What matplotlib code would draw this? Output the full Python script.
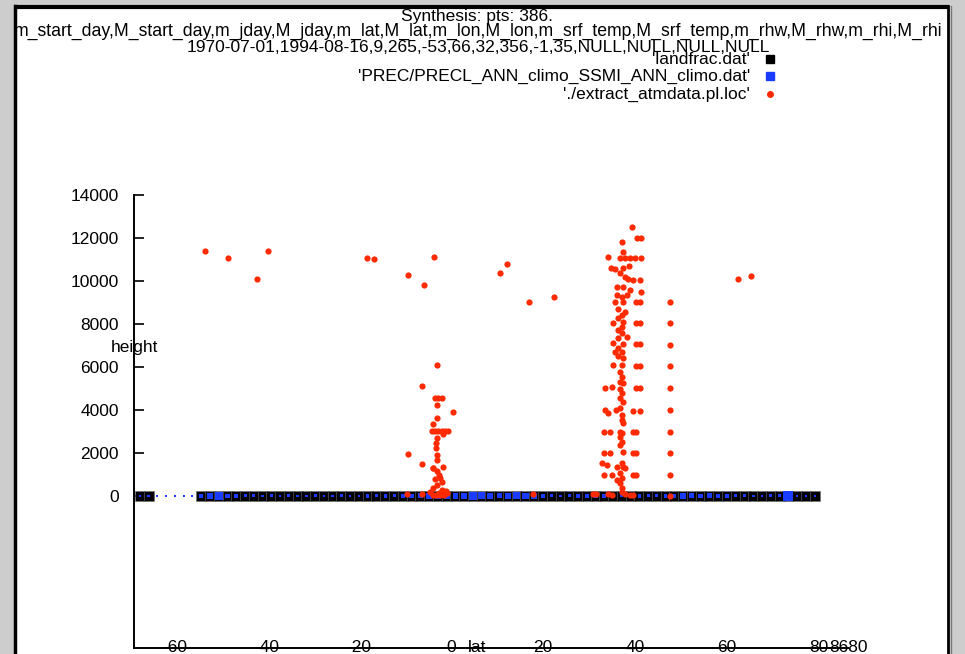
import matplotlib
matplotlib.use("Agg")
import matplotlib.pyplot as plt
from matplotlib.patches import Rectangle
from matplotlib.lines import Line2D

plt.rcParams['font.family'] = ['Liberation Sans', 'DejaVu Sans']

# ---------------- data ----------------
title_lines = [
    "Synthesis: pts: 386.",
    "m_start_day,M_start_day,m_jday,M_jday,m_lat,M_lat,m_lon,M_lon,m_srf_temp,M_srf_temp,m_rhw,M_rhw,m_rhi,M_rhi",
    "1970-07-01,1994-08-16,9,265,-53,66,32,356,-1,35,NULL,NULL,NULL,NULL",
]
legend_labels = ["'landfrac.dat'", "'PREC/PRECL_ANN_climo_SSMI_ANN_climo.dat'", "'./extract_atmdata.pl.loc'"]

# landfrac.dat (lat, value)
landfrac_lat = [-67.617, -65.713,
                -54.285, -52.381, -50.476, -48.571, -46.667, -44.762, -42.857, -40.952, -39.048,
                -37.143, -35.238, -33.333, -31.428, -29.523, -27.619, -25.714, -23.809, -21.904,
                -20.000, -18.095, -16.190, -14.286, -12.381, -10.476, -8.571, -6.667, -4.762,
                -2.857, -0.952, 0.952, 2.857, 4.762, 6.667, 8.571, 10.476, 12.381, 14.286,
                16.190, 18.095, 20.000, 21.904, 23.809, 25.714, 27.619, 29.523, 31.428, 33.333,
                35.238, 37.143, 39.048, 40.952, 42.857, 44.762, 46.667, 48.571, 50.476, 52.381,
                54.285, 56.190, 58.095, 59.999, 61.904, 63.808, 65.713, 67.617, 69.522, 71.426,
                73.331, 75.235, 77.139, 79.043]
landfrac_val = [1, 1,
                0, 0, 0, 0, 0, 0, 0, 0, 0,
                0, 0, 0, 0, 0, 0, 0, 0, 0,
                0, 0, 0, 0, 0, 0, 0, 0, 0,
                0, 0, 0, 0, 0, 0, 0, 0, 0, 0,
                0, 0, 0, 0, 0, 0, 0, 0, 0, 0,
                0, 0, 0, 0, 0, 0, 0, 0, 0, 0,
                0, 0, 0, 0, 0, 0, 0, 0, 0, 0,
                1, 1, 1, 1]

# PREC climo (lat, value at 0, point-size value)
prec_lat = [-67.617, -65.713, -63.808, -61.904, -59.999, -58.095, -56.190,
            -54.285, -52.381, -50.476, -48.571, -46.667, -44.762, -42.857, -40.952, -39.048,
            -37.143, -35.238, -33.333, -31.428, -29.523, -27.619, -25.714, -23.809, -21.904,
            -20.000, -18.095, -16.190, -14.286, -12.381, -10.476, -8.571, -6.667, -4.762,
            -2.857, -0.952, 0.952, 2.857, 4.762, 6.667, 8.571, 10.476, 12.381, 14.286,
            16.190, 18.095, 20.000, 21.904, 23.809, 25.714, 27.619, 29.523, 31.428, 33.333,
            35.238, 37.143, 39.048, 40.952, 42.857, 44.762, 46.667, 48.571, 50.476, 52.381,
            54.285, 56.190, 58.095, 59.999, 61.904, 63.808, 65.713, 67.617, 69.522, 71.426,
            73.331, 75.235, 77.139, 79.043]
prec_val = [0, 0, 0, 0, 0, 0, 0,
            0, 0, 0, 0, 0, 0, 0, 0, 0,
            0, 0, 0, 0, 0, 0, 0, 0, 0,
            0, 0, 0, 0, 0, 0, 0, 0, 0,
            0, 0, 0, 0, 0, 0, 0, 0, 0, 0,
            0, 0, 0, 0, 0, 0, 0, 0, 0, 0,
            0, 0, 0, 0, 0, 0, 0, 0, 0, 0,
            0, 0, 0, 0, 0, 0, 0, 0, 0, 0,
            0, 0, 0, 0]
prec_amount = [2.5, 2.5, 2.0, 2.0, 2.0, 2.0, 2.0,
               4.0, 5.5, 8.0, 4.5, 4.0, 3.0, 3.0, 2.5, 3.0,
               2.5, 3.0, 2.5, 2.5, 3.0, 2.0, 2.5, 3.0, 2.5,
               2.5, 3.5, 3.0, 3.5, 3.0, 4.0, 4.5, 5.0, 5.5,
               6.0, 6.0, 5.5, 6.5, 7.5, 7.0, 6.0, 5.0, 6.5, 7.0,
               6.5, 6.0, 4.0, 3.0, 2.5, 3.0, 3.5, 4.0, 4.5, 4.0,
               3.5, 3.0, 3.0, 3.5, 3.0, 3.0, 3.5, 4.0, 6.5, 5.0,
               4.5, 5.0, 4.0, 3.5, 3.0, 3.0, 2.5, 2.5, 3.0, 3.0,
               10.0, 2.5, 2.0, 2.0]

# extract_atmdata.pl.loc (lat, height)
loc_lat = [
    -53.5, -48.5, -42.2, -39.8, -18.3, -16.7, -9.3, -5.9, -3.7, 10.7, 12.2, 17.0, 22.4, 62.4, 65.2,
    -3.1, -6.4, -3.5, -2.8, -2.0, -3.1, 0.5, -3.1, -3.8, -4.2, -3.5, -2.8, -2.0, -1.3, -0.6,
    -1.7, -3.1, -3.2, -3.2, -3.1, -3.0, -9.3, -6.2, -3.8, -3.1, -2.7, -3.5, -2.0, -3.1, -3.8,
    -2.0, -4.5, -2.7, -0.9, -9.6, -6.4, -4.0, -3.3, -2.4, -1.5, -1.1, -2.3, -1.8, -3.9,
    39.3, 40.4, 41.2, 37.1, 37.3, 34.2, 36.7, 37.8, 38.9, 40.1, 41.4, 34.7, 35.7, 37.5, 38.6,
    36.7, 37.8, 38.5, 39.6, 41.1, 36.0, 37.5, 38.9, 41.4, 36.0, 37.1, 38.2, 35.7, 37.5, 40.3,
    41.0, 36.4, 37.8, 37.1, 36.4, 37.5, 35.3, 40.3, 41.1, 37.1, 36.4, 37.1, 38.2, 36.4, 35.3,
    37.5, 40.3, 41.0, 36.4, 35.7, 37.1, 36.4, 37.5, 35.3, 37.1, 40.3, 41.0, 36.7, 37.1, 36.7,
    37.5, 33.5, 35.0, 36.7, 40.3, 41.0, 37.1, 36.7, 37.5, 33.5, 34.2, 35.9, 36.7, 37.1, 39.6,
    41.0, 37.1, 37.5, 33.2, 34.6, 36.7, 37.1, 39.6, 40.3, 36.7, 37.1, 36.7, 33.2, 34.6, 37.5,
    39.6, 40.3, 32.8, 33.9, 36.0, 37.1, 37.5, 37.8, 33.2, 35.0, 36.7, 37.1, 39.6, 40.3, 36.7,
    37.1, 31.5, 34.2, 34.9, 37.1, 37.8, 38.9, 39.6, 36.0,
    47.7, 47.7, 47.7, 47.7, 47.7, 47.7, 47.7, 47.7, 47.7, 47.6, 17.9, 30.9,
]
loc_height = [
    11400, 11070, 10100, 11400, 11070, 11020, 10280, 9810, 11120, 10370, 10790, 9020, 9260, 10090, 10230,
    6090, 5130, 4540, 4540, 4540, 4230, 3890, 3640, 3330, 3020, 3020, 3020, 3020, 3020, 3020,
    2870, 2710, 2450, 2220, 1910, 1670, 1940, 1470, 1290, 1160, 980, 790, 640, 510, 390,
    280, 200, 120, 120, 100, 100, 50, 30, 60, 40, 250, 850, 1360, 1300,
    12530, 12010, 12010, 11830, 11330, 11130, 11050, 11050, 11050, 11050, 11050, 10590, 10560, 10590, 10710,
    10360, 10200, 10090, 10050, 10050, 9740, 9740, 9580, 9500, 9350, 9270, 9350, 9000, 9000, 9000,
    9000, 8700, 8570, 8420, 8260, 8110, 8030, 8030, 8030, 7870, 7720, 7570, 7410, 7330, 7100,
    7050, 7050, 7050, 6870, 6680, 6710, 6510, 6400, 6090, 6090, 6050, 6050, 5780, 5550, 5320,
    5240, 5010, 5080, 4960, 5010, 5010, 4780, 4540, 4390, 4000, 3840, 4000, 4080, 3770, 3970,
    3970, 3530, 3380, 2990, 2990, 2990, 2920, 2990, 2990, 2730, 2530, 2370, 1990, 1990, 2060,
    1990, 1990, 1520, 1440, 1360, 1520, 1360, 1290, 980, 980, 1060, 820, 980, 980, 590,
    360, 100, 100, 50, 200, 100, 60, 40, 740,
    980, 2000, 2990, 4000, 5010, 6050, 7020, 8030, 9040, 0, 90, 90,
]

y_ticks = [0, 2000, 4000, 6000, 8000, 10000, 12000, 14000]
x_tick_pos = [-60, -40, -20, 0, 20, 40, 60, 80, 86.3]
x_tick_lab = ['-60', '-40', '-20', '0', '20', '40', '60', '80', '8680']

# ---------------- figure ----------------
W, H = 965, 654
fig = plt.figure(figsize=(W / 100, H / 100), dpi=100, facecolor='#cdcdcd')

# overlay in pixel coordinates for the window frame / header / legend
ov = fig.add_axes([0, 0, 1, 1], zorder=0)
ov.set_xlim(0, W)
ov.set_ylim(H, 0)
ov.axis('off')
ov.add_patch(Rectangle((14, 6), 934, 660, facecolor='white', edgecolor='none', zorder=0))

ax = fig.add_axes([134 / W, 1 - 648 / H, 714 / W, 453 / H], zorder=2)
ax.set_facecolor('none')
ax.set_xlim(-68.9, 86.3)
ax.set_ylim(-7070, 14000)
for s in ('top', 'right'):
    ax.spines[s].set_visible(False)
for s in ('left', 'bottom'):
    ax.spines[s].set_linewidth(1.4)
    ax.spines[s].set_color('black')

ax.set_yticks(y_ticks)
ax.set_yticklabels([str(v) for v in y_ticks])
ax.tick_params(axis='y', direction='in', length=7, width=1.2, pad=11, labelsize=12.5)
ax.set_xticks(x_tick_pos)
ax.set_xticklabels(x_tick_lab)
ax.tick_params(axis='x', direction='in', length=0, pad=-6, labelsize=12.5)

# marks
ax.scatter(landfrac_lat, landfrac_val, marker='s', s=52, c='black',
           edgecolors='#6f6f6f', linewidths=0.4, zorder=3, clip_on=False)
ax.scatter(prec_lat, prec_val, marker='s', s=[(a * 0.72) ** 2 for a in prec_amount],
           c='#1a3cff', linewidths=0, zorder=4, clip_on=False)
ax.scatter(loc_lat, loc_height, marker='o', s=20, c='#ff2a00', linewidths=0,
           zorder=5, clip_on=False)

# axis labels (gnuplot style)
ax.text(5.6, -7070, 'lat', ha='center', va='center', fontsize=12.5)
ax.text(-68.9, 6900, 'height', ha='center', va='center', fontsize=12.5)

# header
ov.text(477, 16, title_lines[0], ha='center', va='center', fontsize=12.5)
ov.text(478, 31, title_lines[1], ha='center', va='center', fontsize=12.7)
ov.text(478, 47, title_lines[2], ha='center', va='center', fontsize=12.5)

# legend
rows = [59, 76, 94]
ov.text(750, rows[0], legend_labels[0], ha='right', va='center', fontsize=12.5)
ov.text(750, rows[1], legend_labels[1], ha='right', va='center', fontsize=12.5)
ov.text(750, rows[2], legend_labels[2], ha='right', va='center', fontsize=12.5)
ov.add_line(Line2D([770], [rows[0]], marker='s', markersize=6, color='black', linestyle='none'))
ov.add_line(Line2D([770], [rows[1]], marker='s', markersize=5.5, color='#1a3cff', linestyle='none'))
ov.add_line(Line2D([770], [rows[2]], marker='o', markersize=4, color='#ff2a00', linestyle='none'))

# window frame (drawn on top)
fr = fig.add_axes([0, 0, 1, 1], zorder=10)
fr.set_xlim(0, W)
fr.set_ylim(H, 0)
fr.axis('off')
fr.plot([14, 949], [6.5, 6.5], color='black', lw=3, solid_capstyle='butt')
fr.plot([14.5, 14.5], [6, H], color='black', lw=2.5)
fr.plot([947.5, 947.5], [6, H], color='black', lw=2)
fr.plot([950.5, 950.5], [6, H], color='#777777', lw=1)

fig.savefig('out.png', dpi=100, facecolor=fig.get_facecolor())
